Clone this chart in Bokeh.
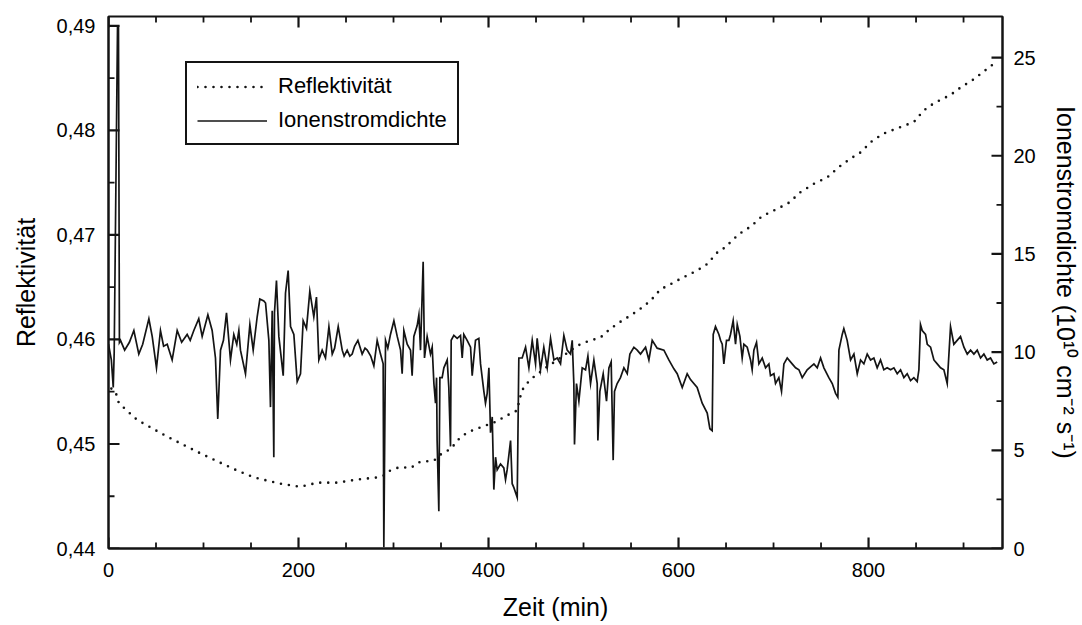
from bokeh.plotting import figure
from bokeh.models import (Range1d, LinearAxis, FixedTicker, CustomJSTickFormatter,
                          Legend, LegendItem, ColumnDataSource)
from bokeh.embed import file_html
from bokeh.resources import INLINE

# ---------------- data ----------------
# Reflektivität (left axis), time in min
refl_t = [3, 7.4, 10.9, 30.2, 61.8, 96.8, 131.9, 153, 167, 181, 202, 220, 241, 262, 283,
          290, 297, 307, 318, 328, 342.5, 351, 360, 369, 377.5, 391.6, 407, 423, 430, 435,
          440.5, 446, 461.8, 472, 493.3, 504, 518, 526.7, 535.4, 549.5, 558, 570.5, 581,
          589.8, 602, 619.6, 630, 642.5, 649.5, 656.5, 667, 676, 688, 704, 716.5, 728.4,
          742.5, 756.5, 768.8, 781, 791.6, 803.9, 816, 830, 847.7, 858, 868.8, 886.3,
          896.8, 910.9, 932]
refl_v = [0.4553, 0.4550, 0.4539, 0.4523, 0.4507, 0.4491, 0.4476, 0.4468, 0.4465, 0.4462,
          0.4459, 0.4463, 0.4463, 0.4466, 0.4468, 0.4470, 0.4475, 0.4478, 0.4477, 0.4483,
          0.4484, 0.4491, 0.4495, 0.4505, 0.4511, 0.4516, 0.4521, 0.4529, 0.4532, 0.4551,
          0.4558, 0.4563, 0.4574, 0.4580, 0.4594, 0.4598, 0.4602, 0.4609, 0.4615, 0.4623,
          0.4628, 0.4637, 0.4648, 0.4652, 0.4658, 0.4666, 0.4672, 0.4685, 0.4688, 0.4695,
          0.4703, 0.4708, 0.4718, 0.4725, 0.4731, 0.4741, 0.4749, 0.4755, 0.4765, 0.4773,
          0.4779, 0.4790, 0.4797, 0.4802, 0.4808, 0.4819, 0.4826, 0.4834, 0.4841, 0.4849,
          0.4864]

# Ionenstromdichte (right axis, 1e10 cm^-2 s^-1)
ion_t = [0, 3, 5, 6, 9.5, 10.5, 11.5,
         12.6, 17, 22, 26.7, 31.9, 36, 42.5, 46, 50.5, 54.7, 58, 61.8, 67, 72.3, 77, 82.8,
         86, 89.8, 95, 98.6, 104.6, 109.1, 112.6, 115, 117.9, 121, 124.2, 128.4, 131.9, 135,
         137.2, 138.9, 144.2, 148.8, 152.3, 156.5, 159.3,
         163.5, 165.3, 168.8, 170.5, 172.3, 174.0, 174.7, 176.8, 179.3, 183.9, 186.3, 189.1,
         191.6, 195.1, 198.6, 202.1, 204.9, 208.4, 211.9, 216.1, 218.9, 221.4, 224.9, 228.4,
         232.0, 235.5, 238, 241.8, 246.0, 248, 251.2, 254, 256.5, 259, 262.5, 267.0, 270,
         272.3, 276, 279.3, 282.8, 286.3, 289.1, 289.8, 291.6, 294, 296.8, 300.4, 303.9,
         307.4, 309.1, 310.9, 314.4, 317.9,
         319.6, 321.4, 324.9, 326.7, 328.4, 331.2, 332.6, 335.4, 338.9, 340.7, 342.5, 344.2,
         345.3, 345.9, 347.7, 348.8, 351.2, 353.0, 356.5, 358.2, 360.0, 360.7, 363.5, 367.0,
         370.5, 372.3, 374.0, 377.5, 381.1, 382.8, 386.3, 389.8, 391.6, 395.1, 396.8, 398.6,
         400.4, 402.1, 403.9, 405.6, 407.4, 409.1, 412.6, 416.1, 417.9, 419.6, 423.2, 424.9,
         426.7, 430.2, 431.9, 435.4, 439.0, 442.5, 446.0, 449.5, 451.2, 454.7, 458.2, 461.8,
         465.3, 468.8, 472.3,
         475.8, 479.3, 482.8, 486.3, 488.1, 489.8, 490.5, 492.6, 495.1, 498.6, 502.1, 504.6,
         507.4, 510.9, 514.4, 515.1, 517.2, 520.7, 524.2, 526.7, 529.1, 531.2, 532.6, 535.4,
         538.9, 542.5, 546.0, 548.8, 553.0, 556.5, 560.0, 565.3, 568.8, 572.3, 577.5, 584.6,
         589.8, 595.1, 598.6, 603.9, 609.1, 612.6, 619.6, 624.9, 630.2, 633.0,
         635.4, 636.5, 638.9, 642.5, 644.2, 646.0, 647.7, 650.5, 653.0, 654.7, 657.5, 660.0,
         661.8, 664.6, 667.0, 668.8, 672.3, 675.8, 677.5, 679.3, 682.1, 684.6, 688.1, 691.6,
         695.1, 696.8, 700.4, 702.1, 705.6, 708.4, 710.9, 714.4, 719.6, 723.2, 726.7, 730.2,
         735.4, 742.5, 746.0, 749.5, 753.0, 758.2, 761.8, 765.3, 767.7, 768.8, 772.3, 774.0,
         777.5, 781.1, 784.6, 788.1, 791.6,
         795.1, 798.6, 802.1, 805.6, 809.1, 812.6, 816.1, 819.6, 823.2, 826.7, 830.2, 833.7,
         837.2, 840.7, 844.2, 847.7, 851.2, 853.0, 854.7, 856.5, 860.0, 861.8, 865.3, 868.8,
         872.3, 875.8, 879.3, 882.8, 886.3, 889.8, 893.3, 896.8, 900.4, 903.9, 907.4, 910.9,
         914.4, 917.9, 921.4, 924.9, 928.4, 931.9, 935.4]
ion_v = [10.4, 9.6, 8.2, 10.0, 26.6, 26.6, 10.5,
         10.6, 10.1, 10.5, 11.1, 9.9, 10.4, 11.7, 10.8, 9.2, 11.1, 10.3, 10.4, 9.6, 11.1, 10.5,
         10.9, 10.6, 11.1, 11.7, 10.8, 11.9, 11.1, 9.7, 6.6, 10.1, 10.6, 12.0, 9.6, 10.9, 10.4,
         11.1, 10.1, 8.9, 11.4, 10.1, 11.8, 12.7,
         12.6, 12.5, 10.6, 7.2, 12.1, 4.65, 12.0, 13.65, 10.8, 8.8, 13.0, 14.15,
         11.3, 10.9, 8.5, 8.9, 11.6, 11.2, 13.1, 11.8, 12.8, 9.6, 10.1, 9.7,
         11.3, 9.9, 10.2, 11.3, 10.1, 9.8, 10.1, 9.8, 9.9, 10.3, 10.6, 9.9, 10.2,
         10.1, 9.8, 9.3, 10.6, 9.9, 9.4, 0.06, 10.6, 10.2, 10.9, 11.6, 10.8,
         10.1, 8.9, 11.1, 10.4, 10.1,
         8.8, 10.8, 11.35, 11.9, 10.1, 14.6, 9.7, 10.8, 9.9, 10.25, 8.4, 7.4,
         8.7, 5.5, 1.9, 8.7, 8.7, 9.2, 9.6, 8.2, 5.2, 10.6, 10.85, 10.7,
         10.85, 9.7, 10.9, 10.6, 10.25, 8.8, 10.6, 10.7, 9.4, 8.0, 7.4, 7.9,
         9.2, 5.9, 6.7, 3.0, 4.65, 4.0, 4.3, 4.1, 3.5, 4.0, 5.5, 3.3,
         3.1, 2.6, 9.7, 9.7, 10.25, 9.2, 10.6, 9.4, 10.7, 9.1, 10.25, 9.2,
         10.7, 9.6, 9.7,
         9.4, 10.85, 10.1, 9.9, 10.6, 8.4, 5.3, 8.4, 7.5, 9.2, 9.1, 9.8,
         8.4, 9.6, 8.4, 5.5, 8.0, 8.9, 7.5, 9.2, 9.5, 4.5, 8.0, 8.4,
         8.7, 9.2, 8.9, 9.9, 10.25, 10.1, 9.9, 10.25, 9.6, 10.6, 10.2, 10.1,
         9.6, 9.15, 8.9, 8.2, 8.9, 8.6, 8.2, 7.4, 6.9, 6.1,
         6.0, 10.9, 11.3, 10.9, 10.6, 10.4, 9.4, 10.6, 10.6, 10.9, 11.6, 10.4,
         11.4, 10.8, 9.7, 10.4, 10.25, 9.6, 9.1, 10.1, 10.5, 9.4, 9.7, 9.2,
         9.4, 8.8, 8.9, 8.4, 8.7, 8.0, 9.4, 9.7, 9.4, 9.2, 9.1, 8.7,
         9.1, 9.4, 9.2, 9.7, 9.2, 8.7, 8.4, 7.9, 7.7, 10.1, 10.9, 11.2,
         10.6, 9.6, 9.9, 8.9, 9.6,
         9.4, 9.9, 9.6, 9.7, 9.2, 9.6, 9.1, 9.2, 9.1, 9.2, 8.9, 9.1,
         8.7, 8.9, 8.55, 8.7, 8.5, 9.1, 11.4, 11.1, 10.9, 10.4, 10.25, 9.6,
         9.4, 9.2, 9.1, 8.4, 11.3, 10.4, 10.6, 10.8, 10.25, 9.9, 10.1, 9.9,
         10.1, 9.7, 9.9, 9.6, 9.7, 9.4, 9.5]

# axis ticks / labels
x_ticks = [0, 200, 400, 600, 800]
x_minor = [i * 50 for i in range(0, 19) if i % 4 != 0]
left_ticks = [0.44, 0.45, 0.46, 0.47, 0.48, 0.49]
left_minor = [0.445, 0.455, 0.465, 0.475, 0.485]
right_ticks = [0, 5, 10, 15, 20, 25]
right_minor = [2.5, 7.5, 12.5, 17.5, 22.5]

X_RANGE = (0, 941)
L_RANGE = (0.44, 0.4909)
R_RANGE = (0, 27.09)

W, H = 1082, 625
BL, BR, BT, BB = 108, 80, 16, 77
FRAME_W = W - BL - BR
FRAME_H = H - BT - BB

FONT = "Liberation Sans"
INK = "#141414"
MAJ, MIN = 11, 6   # inward tick lengths in px

p = figure(width=W, height=H, output_backend="svg", toolbar_location=None,
           x_range=Range1d(*X_RANGE), y_range=Range1d(*L_RANGE),
           min_border_left=BL, min_border_right=BR, min_border_top=BT,
           min_border_bottom=BB, background_fill_color="white",
           border_fill_color="white")
p.extra_y_ranges = {"ion": Range1d(*R_RANGE)}
p.grid.visible = False
p.outline_line_color = INK
p.outline_line_width = 2


def style_axis(ax, size="20px"):
    ax.axis_line_color = INK
    ax.axis_line_width = 2
    ax.major_tick_in = 0
    ax.major_tick_out = 0
    ax.minor_tick_in = 0
    ax.minor_tick_out = 0
    ax.major_label_text_font = FONT
    ax.major_label_text_font_size = size
    ax.major_label_text_color = "black"
    ax.axis_label_text_font = FONT
    ax.axis_label_text_font_size = "25px"
    ax.axis_label_text_font_style = "normal"
    ax.axis_label_text_color = "black"


xa = p.xaxis[0]
style_axis(xa)
xa.ticker = FixedTicker(ticks=x_ticks)
xa.axis_label = "Zeit (min)"
xa.major_label_standoff = 14
xa.axis_label_standoff = 13

ya = p.yaxis[0]
style_axis(ya)
ya.ticker = FixedTicker(ticks=left_ticks)
ya.formatter = CustomJSTickFormatter(code="return tick.toFixed(2).replace('.', ',');")
ya.axis_label = "Reflektivität"
ya.major_label_standoff = 13
ya.axis_label_standoff = 14

ra = LinearAxis(y_range_name="ion")
style_axis(ra)
ra.ticker = FixedTicker(ticks=right_ticks)
ra.axis_label = "Ionenstromdichte (10¹⁰ cm⁻² s⁻¹)"
ra.major_label_standoff = 11
ra.axis_label_standoff = 13
p.add_layout(ra, "right")

# inward tick marks, built from the tick lists and drawn through the data scales
xpx = (X_RANGE[1] - X_RANGE[0]) / FRAME_W
lpx = (L_RANGE[1] - L_RANGE[0]) / FRAME_H

lx, ly, lw = [], [], []
for ticks, n, w in ((x_ticks, MAJ, 2.2), (x_minor, MIN, 1.8)):
    for t in ticks:
        lx.append([t, t]); ly.append([L_RANGE[0], L_RANGE[0] + n * lpx]); lw.append(w)
        lx.append([t, t]); ly.append([L_RANGE[1], L_RANGE[1] - n * lpx]); lw.append(w)
for ticks, n, w in ((left_ticks, MAJ, 2.2), (left_minor, MIN, 1.8)):
    for v in ticks:
        lx.append([X_RANGE[0], X_RANGE[0] + n * xpx]); ly.append([v, v]); lw.append(w)
left_src = ColumnDataSource(dict(xs=lx, ys=ly, w=lw))
p.multi_line(xs="xs", ys="ys", line_width="w", line_color=INK, source=left_src)

rx, ry, rw = [], [], []
for ticks, n, w in ((right_ticks, MAJ, 2.2), (right_minor, MIN, 1.8)):
    for v in ticks:
        rx.append([X_RANGE[1], X_RANGE[1] - n * xpx]); ry.append([v, v]); rw.append(w)
right_src = ColumnDataSource(dict(xs=rx, ys=ry, w=rw))
p.multi_line(xs="xs", ys="ys", line_width="w", line_color=INK, source=right_src,
             y_range_name="ion")

ion = p.line(ion_t, ion_v, y_range_name="ion", line_color=INK, line_width=1.7,
             line_join="miter")
refl = p.line(refl_t, refl_v, line_color=INK, line_width=2.6, line_dash="0 8",
              line_cap="round")

legend = Legend(items=[LegendItem(label="Reflektivität", renderers=[refl]),
                       LegendItem(label="Ionenstromdichte", renderers=[ion])],
                location=(77, 403))
legend.label_text_font = FONT
legend.label_text_font_size = "22px"
legend.label_text_color = "black"
legend.glyph_width = 70
legend.glyph_height = 25
legend.label_height = 25
legend.label_standoff = 11
legend.spacing = 8
legend.padding = 10
legend.margin = 0
legend.border_line_color = INK
legend.border_line_width = 2
legend.border_line_alpha = 1
legend.background_fill_color = "white"
legend.background_fill_alpha = 1
p.add_layout(legend, "center")

open("out.html", "w").write(file_html(p, INLINE))
